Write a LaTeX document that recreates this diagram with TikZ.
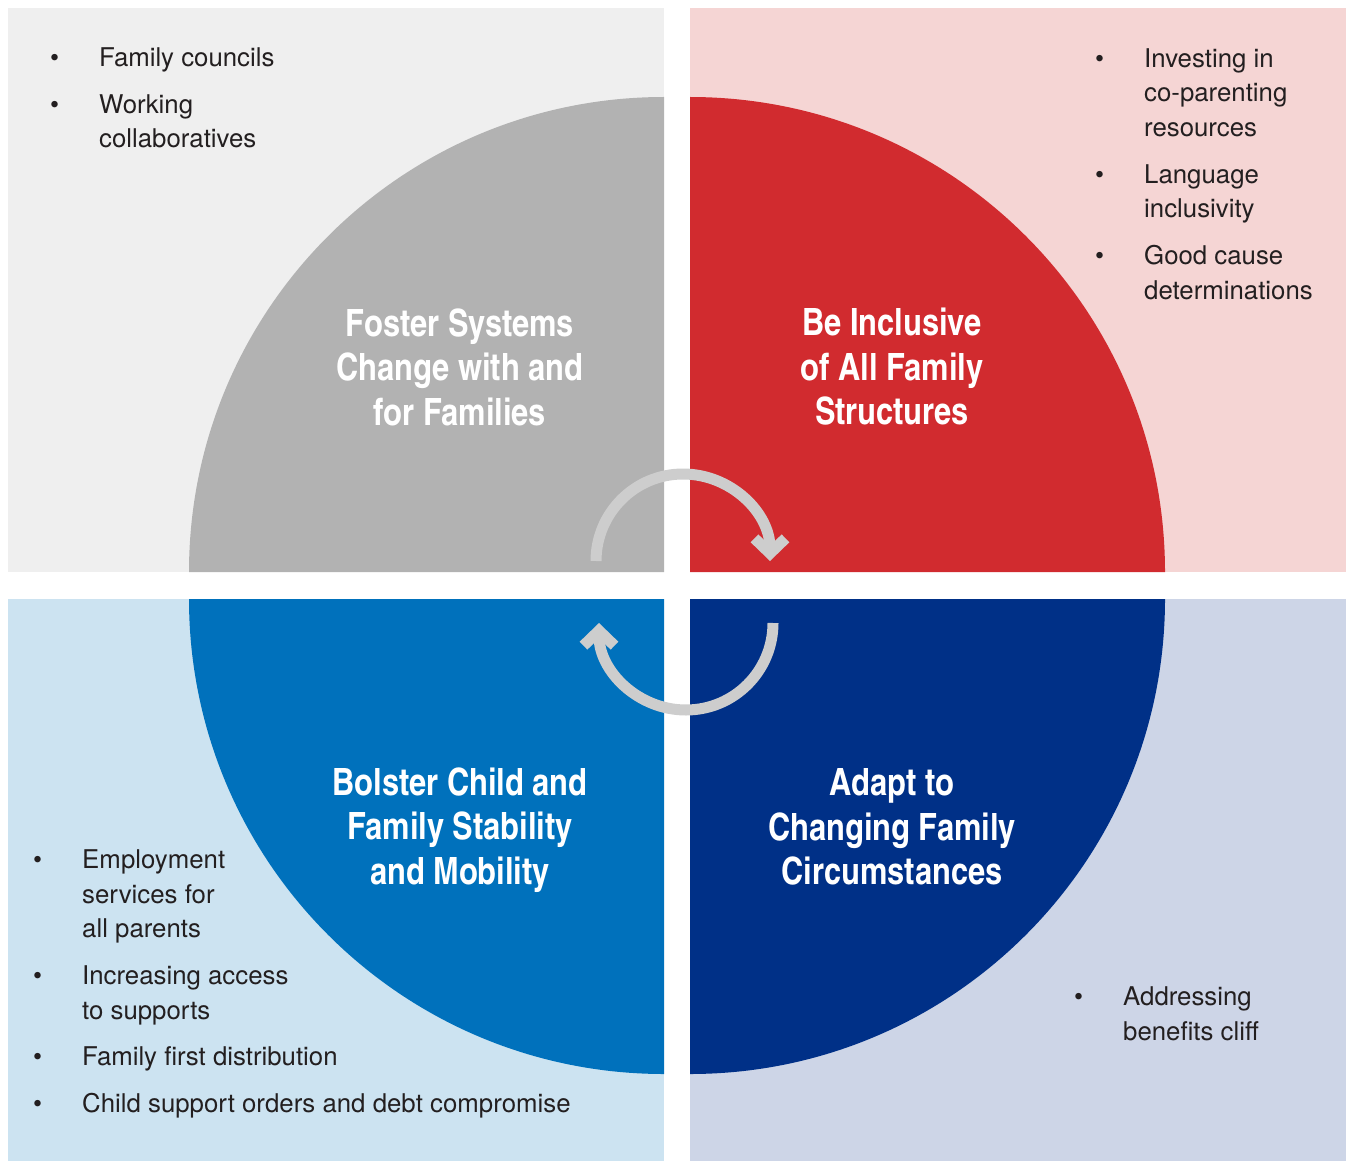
\documentclass[tikz,border=0pt]{standalone}
\usepackage{fontspec}
\setmainfont{TeX Gyre Heros}
\newfontfamily\titlefont{texgyreheroscn-bold.otf}
\usetikzlibrary{arrows.meta}

\definecolor{bgGrey}{HTML}{EFEFEF}
\definecolor{bgPink}{HTML}{F5D5D4}
\definecolor{bgSky}{HTML}{CCE3F1}
\definecolor{bgSlate}{HTML}{CDD5E7}
\definecolor{discGrey}{HTML}{B2B2B2}
\definecolor{discRed}{HTML}{D12B2F}
\definecolor{discBlue}{HTML}{0071BC}
\definecolor{discNavy}{HTML}{003087}
\definecolor{cycGrey}{HTML}{CDCDCD}
\definecolor{txtDark}{HTML}{231F20}

\newcommand{\bul}{\llap{\textbullet\hspace{40pt}}}
\newcommand{\itemgap}{11.8pt}

\tikzset{
  title/.style={text=white, align=center, inner sep=0pt,
    font=\titlefont\fontsize{37.6}{44.5}\selectfont},
  % base anchor sits on the last line
  items/.style={text=txtDark, align=left, inner sep=0pt, anchor=base west,
    font=\fontsize{25.8}{34.7}\selectfont},
  cycle arrow/.style={draw=cycGrey, line width=11pt,
    -{Straight Barb[length=15pt, width=31pt]}}
}

\begin{document}
\begin{tikzpicture}[x=1pt,y=-1pt,>=latex]
        \def\rad{475}
        \def\gapL{664}
        \def\gapR{690}
        \def\gapT{572}
        \def\gapB{599}
        \def\cyc{87}

        \useasboundingbox (0,0) rectangle (1346,1161);

        % panels
        \fill[bgGrey] (8,8) rectangle (\gapL,\gapT);
        \fill[bgPink] (\gapR,8) rectangle (1346,\gapT);
        \fill[bgSky] (8,\gapB) rectangle (\gapL,1161);
        \fill[bgSlate] (\gapR,\gapB) rectangle (1346,1161);

        % quarter discs
        \fill[discGrey] (\gapL,\gapT) -- +(-\rad,0) arc[start angle=180, end angle=270, radius=\rad] -- cycle;
        \fill[discRed] (\gapR,\gapT) -- +(\rad,0) arc[start angle=0, end angle=-90, radius=\rad] -- cycle;
        \fill[discBlue] (\gapL,\gapB) -- +(-\rad,0) arc[start angle=180, end angle=90, radius=\rad] -- cycle;
        \fill[discNavy] (\gapR,\gapB) -- +(\rad,0) arc[start angle=0, end angle=90, radius=\rad] -- cycle;

        % titles
        \node[title] (foster) at (460,367) {Foster Systems\\Change with and\\for Families};
        \node[title] (inclusive) at (892,367) {Be Inclusive\\of All Family\\Structures};
        \node[title] (bolster) at (460,830) {Bolster Child and\\Family Stability\\and Mobility};
        \node[title] (adapt) at (892,827) {Adapt to\\Changing Family\\Circumstances};

        % circular arrows
        \draw[cycle arrow] (683,561) ++(-\cyc,0) arc[start angle=180, end angle=360, radius=\cyc];
        \draw[cycle arrow] (686,623) ++(\cyc,0) arc[start angle=0, end angle=180, radius=\cyc];

        % bullet lists
        \node[items] (fosterList) at (99,148) {\bul Family councils\\[\itemgap]
          \bul Working\\collaboratives};
        \node[items] (inclusiveList) at (1144,299) {\bul Investing in\\co-parenting\\resources\\[\itemgap]
          \bul Language\\inclusivity\\[\itemgap]
          \bul Good cause\\determinations};
        \node[items] (bolsterList) at (82,1112) {\bul Employment\\services for\\all parents\\[\itemgap]
          \bul Increasing access\\to supports\\[\itemgap]
          \bul Family first distribution\\[\itemgap]
          \bul Child support orders and debt compromise};
        \node[items] (adaptList) at (1123,1040) {\bul Addressing\\benefits cliff};
\end{tikzpicture}
\end{document}
